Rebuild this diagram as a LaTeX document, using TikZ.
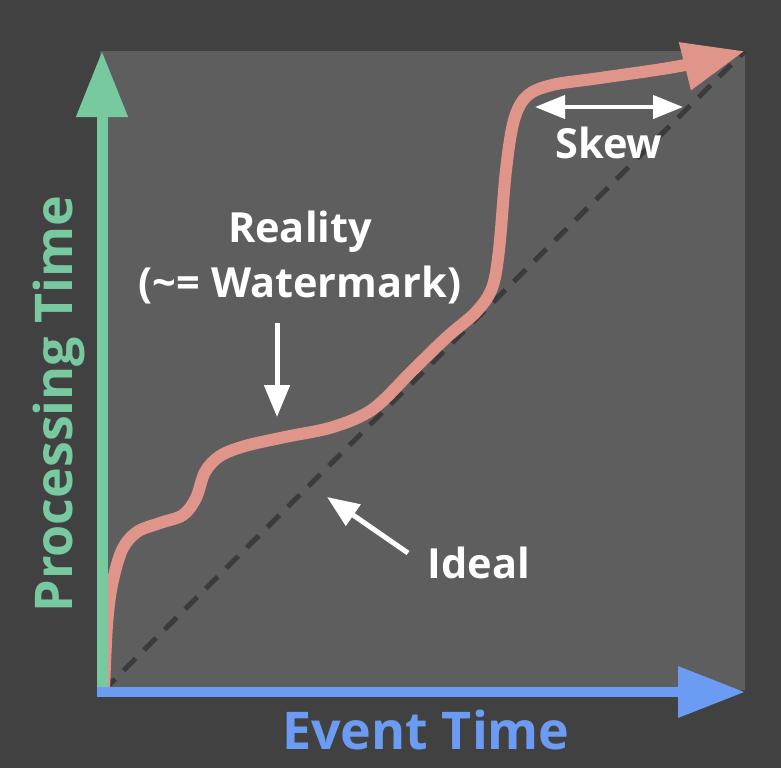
\documentclass[tikz,border=0pt]{standalone}
\usepackage{fontspec}
\setmainfont{Open Sans}
\usetikzlibrary{arrows.meta}

\definecolor{bgdark}{HTML}{414141}
\definecolor{panelgray}{HTML}{5E5E5E}
\definecolor{dashgray}{HTML}{3B3B3B}
\definecolor{procgreen}{HTML}{79C9A0}
\definecolor{eventblue}{HTML}{6B9BF2}
\definecolor{realred}{HTML}{E0958A}

\begin{document}
\begin{tikzpicture}[
            x=1pt,
            y=-1pt,
            textlabel/.style={
                font=\fontsize{41.5}{46}\selectfont\bfseries,
                text=white,
                inner sep=0pt,
                anchor=base
            },
            axislabel/.style={
                font=\fontsize{52}{58}\selectfont\bfseries,
                inner sep=0pt,
                anchor=base
            },
            pointer/.style={
                draw=white,
                line width=5pt,
                -{Triangle[length=32pt,width=25pt]}
            }
        ]
            % background and plot area
            \fill[bgdark] (0,0) rectangle (781,768);
            \useasboundingbox (0,0) rectangle (781,768);
            \fill[panelgray] (100,51) rectangle (745,690);

            \coordinate (origin) at (103,691);
            \coordinate (ptop) at (102,51);
            \coordinate (eend) at (745,692);
            \coordinate (corner) at (745,51);

            % ideal line
            \draw[dashgray, line width=5pt, dash pattern=on 17pt off 12pt] (origin) -- (corner);

            % reality curve
            \draw[realred, line width=12pt, -{Triangle[length=62pt,width=46pt]}]
                plot[smooth, tension=0.55] coordinates {
                    (104,690) (107,625) (112,585) (122,550) (137,532) (160,523)
                    (183,515) (196,498) (205,472) (220,456) (245,446) (285,437)
                    (333,427) (373,409) (413,370) (447,337) (476,312) (492,288)
                    (499,250) (506,170) (514,120) (527,96) (552,85) (600,78)
                    (680,66) (745,51)
                };

            % axes
            \draw[procgreen, line width=11pt, -{Triangle[length=66pt,width=49pt]}] (102,692) -- (ptop);
            \draw[eventblue, line width=10pt, -{Triangle[length=67pt,width=49pt]}] (97,692) -- (eend);

            % labels
            \node[textlabel] (reality) at (300,242) {Reality};
            \node[textlabel] (watermark) at (300,297) {(\textasciitilde= Watermark)};
            \node[textlabel] (ideal) at (479,578) {Ideal};
            \node[textlabel] (skew) at (609,158) {Skew};
            \node[axislabel, text=eventblue] (eventtime) at (426,749) {Event Time};
            \node[axislabel, text=procgreen, rotate=90] (proctime) at (72,404) {Processing Time};

            % pointers
            \coordinate (downfrom) at (277,323);
            \coordinate (downto) at (277,417);
            \coordinate (idealfrom) at (408,553);
            \coordinate (idealto) at (327,497);
            \coordinate (skewleft) at (535,107);
            \coordinate (skewright) at (683,107);
            \draw[pointer] (downfrom) -- (downto);
            \draw[pointer] (idealfrom) -- (idealto);
            \draw[draw=white, line width=4pt, {Triangle[length=30pt,width=23pt]}-{Triangle[length=30pt,width=23pt]}] (skewleft) -- (skewright);
        \end{tikzpicture}
\end{document}
